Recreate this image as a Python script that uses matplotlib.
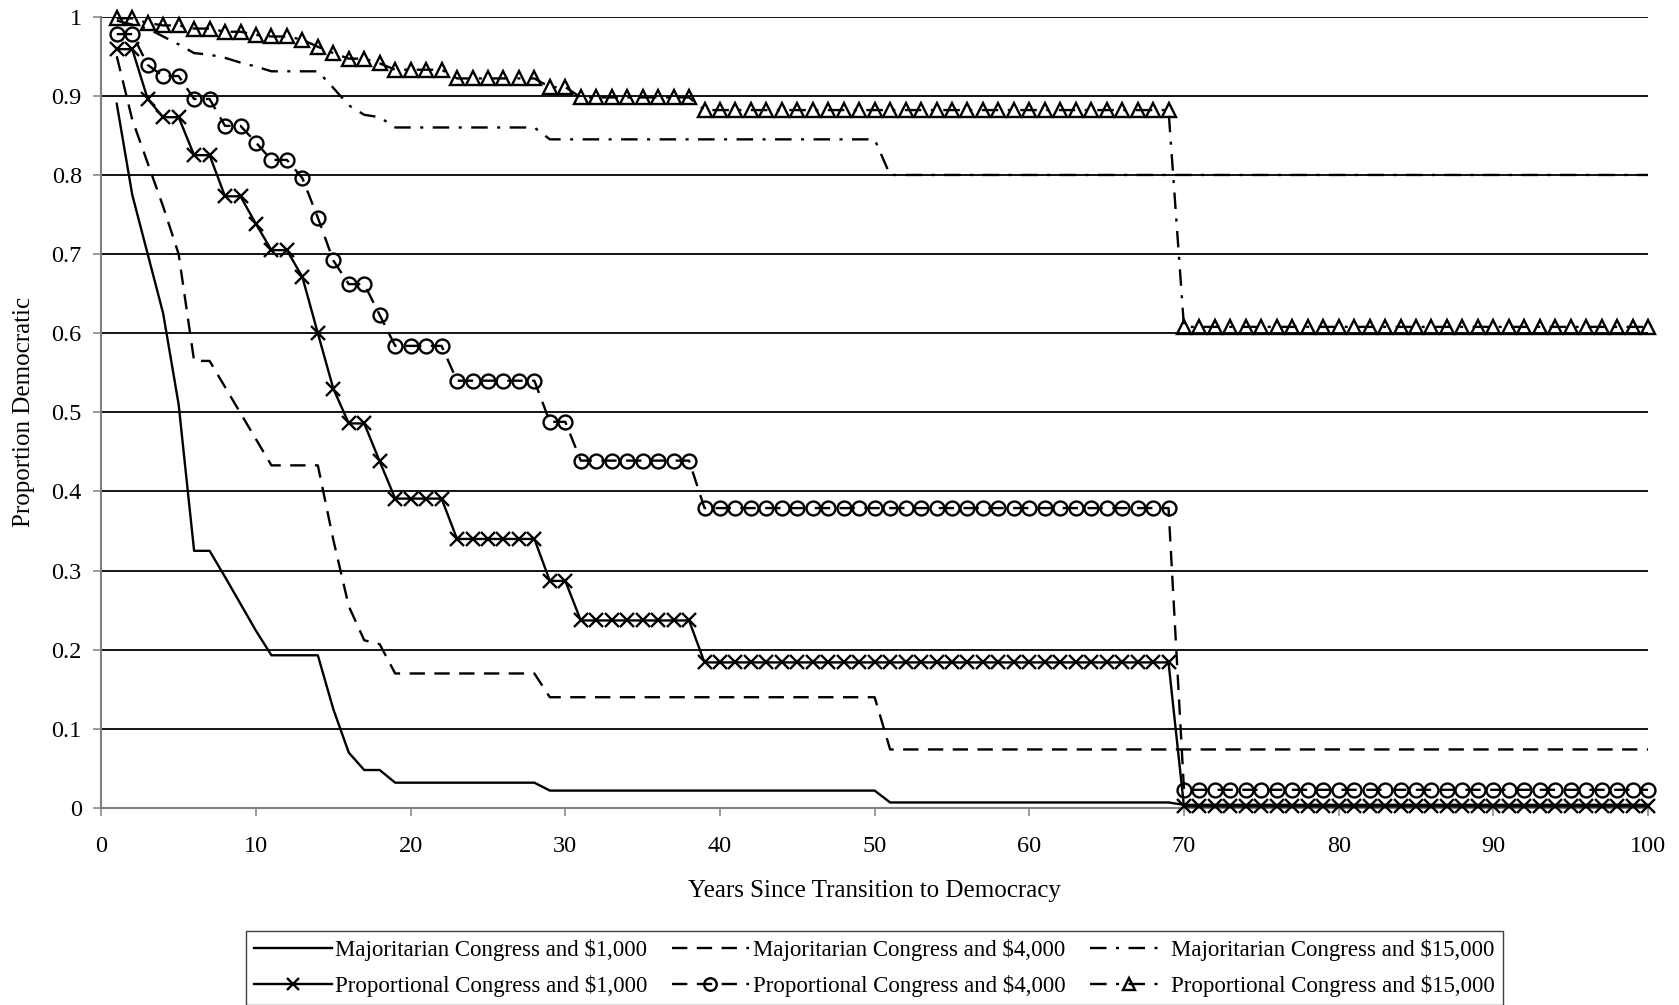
import matplotlib
matplotlib.use('Agg')
from matplotlib import pyplot as plt

plt.rcParams['font.family'] = ['Liberation Serif', 'DejaVu Serif']
plt.rcParams['text.parse_math'] = False  # labels contain a single '$'

# ---- data (proportion still democratic, years 1..100) ----
years = list(range(1, 101))

majCongress1000 = [
    0.890, 0.775, 0.700, 0.625, 0.510, 0.325, 0.325, 0.292, 0.258, 0.224,
    0.193, 0.193, 0.193, 0.193, 0.125, 0.070, 0.048, 0.048, 0.032, 0.032,
    0.032, 0.032, 0.032, 0.032, 0.032, 0.032, 0.032, 0.032, 0.022, 0.022,
    0.022, 0.022, 0.022, 0.022, 0.022, 0.022, 0.022, 0.022, 0.022, 0.022,
    0.022, 0.022, 0.022, 0.022, 0.022, 0.022, 0.022, 0.022, 0.022, 0.022,
    0.007, 0.007, 0.007, 0.007, 0.007, 0.007, 0.007, 0.007, 0.007, 0.007,
    0.007, 0.007, 0.007, 0.007, 0.007, 0.007, 0.007, 0.007, 0.007, 0.004,
    0.004, 0.004, 0.004, 0.004, 0.004, 0.004, 0.004, 0.004, 0.004, 0.004,
    0.004, 0.004, 0.004, 0.004, 0.004, 0.004, 0.004, 0.004, 0.004, 0.004,
    0.004, 0.004, 0.004, 0.004, 0.004, 0.004, 0.004, 0.004, 0.004, 0.004,
]

majCongress4000 = [
    0.950, 0.870, 0.815, 0.760, 0.700, 0.565, 0.565, 0.532, 0.499, 0.466,
    0.433, 0.433, 0.433, 0.433, 0.339, 0.255, 0.212, 0.207, 0.170, 0.170,
    0.170, 0.170, 0.170, 0.170, 0.170, 0.170, 0.170, 0.170, 0.140, 0.140,
    0.140, 0.140, 0.140, 0.140, 0.140, 0.140, 0.140, 0.140, 0.140, 0.140,
    0.140, 0.140, 0.140, 0.140, 0.140, 0.140, 0.140, 0.140, 0.140, 0.140,
    0.074, 0.074, 0.074, 0.074, 0.074, 0.074, 0.074, 0.074, 0.074, 0.074,
    0.074, 0.074, 0.074, 0.074, 0.074, 0.074, 0.074, 0.074, 0.074, 0.074,
    0.074, 0.074, 0.074, 0.074, 0.074, 0.074, 0.074, 0.074, 0.074, 0.074,
    0.074, 0.074, 0.074, 0.074, 0.074, 0.074, 0.074, 0.074, 0.074, 0.074,
    0.074, 0.074, 0.074, 0.074, 0.074, 0.074, 0.074, 0.074, 0.074, 0.074,
]

majCongress15000 = [
    0.995, 0.990, 0.985, 0.975, 0.965, 0.954, 0.952, 0.948, 0.942, 0.937,
    0.931, 0.931, 0.931, 0.931, 0.910, 0.888, 0.876, 0.873, 0.860, 0.860,
    0.860, 0.860, 0.860, 0.860, 0.860, 0.860, 0.860, 0.860, 0.845, 0.845,
    0.845, 0.845, 0.845, 0.845, 0.845, 0.845, 0.845, 0.845, 0.845, 0.845,
    0.845, 0.845, 0.845, 0.845, 0.845, 0.845, 0.845, 0.845, 0.845, 0.845,
    0.800, 0.800, 0.800, 0.800, 0.800, 0.800, 0.800, 0.800, 0.800, 0.800,
    0.800, 0.800, 0.800, 0.800, 0.800, 0.800, 0.800, 0.800, 0.800, 0.800,
    0.800, 0.800, 0.800, 0.800, 0.800, 0.800, 0.800, 0.800, 0.800, 0.800,
    0.800, 0.800, 0.800, 0.800, 0.800, 0.800, 0.800, 0.800, 0.800, 0.800,
    0.800, 0.800, 0.800, 0.800, 0.800, 0.800, 0.800, 0.800, 0.800, 0.800,
]

propCongress1000 = [
    0.959, 0.959, 0.896, 0.873, 0.873, 0.825, 0.825, 0.773, 0.773, 0.738,
    0.705, 0.705, 0.671, 0.600, 0.530, 0.486, 0.486, 0.438, 0.391, 0.391,
    0.391, 0.391, 0.340, 0.340, 0.340, 0.340, 0.340, 0.340, 0.287, 0.287,
    0.237, 0.237, 0.237, 0.237, 0.237, 0.237, 0.237, 0.237, 0.184, 0.184,
    0.184, 0.184, 0.184, 0.184, 0.184, 0.184, 0.184, 0.184, 0.184, 0.184,
    0.184, 0.184, 0.184, 0.184, 0.184, 0.184, 0.184, 0.184, 0.184, 0.184,
    0.184, 0.184, 0.184, 0.184, 0.184, 0.184, 0.184, 0.184, 0.184, 0.002,
    0.002, 0.002, 0.002, 0.002, 0.002, 0.002, 0.002, 0.002, 0.002, 0.002,
    0.002, 0.002, 0.002, 0.002, 0.002, 0.002, 0.002, 0.002, 0.002, 0.002,
    0.002, 0.002, 0.002, 0.002, 0.002, 0.002, 0.002, 0.002, 0.002, 0.002,
]

propCongress4000 = [
    0.978, 0.978, 0.939, 0.925, 0.925, 0.896, 0.896, 0.862, 0.862, 0.841,
    0.819, 0.819, 0.796, 0.746, 0.692, 0.662, 0.662, 0.623, 0.584, 0.584,
    0.584, 0.584, 0.540, 0.540, 0.540, 0.540, 0.540, 0.540, 0.488, 0.488,
    0.439, 0.439, 0.439, 0.439, 0.439, 0.439, 0.439, 0.439, 0.379, 0.379,
    0.379, 0.379, 0.379, 0.379, 0.379, 0.379, 0.379, 0.379, 0.379, 0.379,
    0.379, 0.379, 0.379, 0.379, 0.379, 0.379, 0.379, 0.379, 0.379, 0.379,
    0.379, 0.379, 0.379, 0.379, 0.379, 0.379, 0.379, 0.379, 0.379, 0.023,
    0.023, 0.023, 0.023, 0.023, 0.023, 0.023, 0.023, 0.023, 0.023, 0.023,
    0.023, 0.023, 0.023, 0.023, 0.023, 0.023, 0.023, 0.023, 0.023, 0.023,
    0.023, 0.023, 0.023, 0.023, 0.023, 0.023, 0.023, 0.023, 0.023, 0.023,
]

propCongress15000 = [
    0.998, 0.998, 0.992, 0.989, 0.989, 0.985, 0.985, 0.981, 0.981, 0.977,
    0.975, 0.975, 0.971, 0.962, 0.954, 0.947, 0.947, 0.941, 0.933, 0.933,
    0.933, 0.933, 0.922, 0.922, 0.922, 0.922, 0.922, 0.922, 0.911, 0.911,
    0.898, 0.898, 0.898, 0.898, 0.898, 0.898, 0.898, 0.898, 0.882, 0.882,
    0.882, 0.882, 0.882, 0.882, 0.882, 0.882, 0.882, 0.882, 0.882, 0.882,
    0.882, 0.882, 0.882, 0.882, 0.882, 0.882, 0.882, 0.882, 0.882, 0.882,
    0.882, 0.882, 0.882, 0.882, 0.882, 0.882, 0.882, 0.882, 0.882, 0.608,
    0.608, 0.608, 0.608, 0.608, 0.608, 0.608, 0.608, 0.608, 0.608, 0.608,
    0.608, 0.608, 0.608, 0.608, 0.608, 0.608, 0.608, 0.608, 0.608, 0.608,
    0.608, 0.608, 0.608, 0.608, 0.608, 0.608, 0.608, 0.608, 0.608, 0.608,
]

xTicks = [0, 10, 20, 30, 40, 50, 60, 70, 80, 90, 100]
yTicks = [0, 0.1, 0.2, 0.3, 0.4, 0.5, 0.6, 0.7, 0.8, 0.9, 1.0]
yTickLabels = ['0', '0.1', '0.2', '0.3', '0.4', '0.5', '0.6', '0.7', '0.8', '0.9', '1']

# ---- styles ----
dashed = (6.5, 4)
dashDot = (7, 4, 1.3, 4)
axisGray = '#808080'


def plotSeries(ax, values, label, dashes=None, marker=None):
    """ one survival curve; markers are hollow so the line shows through """
    line, = ax.plot(years, values, color='black', linewidth=1.7, label=label,
                    marker=marker, markersize=10, markeredgewidth=1.7,
                    markerfacecolor='none', markeredgecolor='black',
                    clip_on=False, zorder=3)
    if dashes is not None:
        line.set_dashes(dashes)
    return line


fig = plt.figure(figsize=(16.79, 10.05), dpi=100)
ax = fig.add_axes([101.3 / 1679, 1 - 808 / 1005, (1648 - 101.3) / 1679, (808 - 16.7) / 1005])

hMaj1 = plotSeries(ax, majCongress1000, 'Majoritarian Congress and $1,000')
hMaj4 = plotSeries(ax, majCongress4000, 'Majoritarian Congress and $4,000', dashes=dashed)
hMaj15 = plotSeries(ax, majCongress15000, 'Majoritarian Congress and $15,000', dashes=dashDot)
hPro1 = plotSeries(ax, propCongress1000, 'Proportional Congress and $1,000', marker='x')
hPro4 = plotSeries(ax, propCongress4000, 'Proportional Congress and $4,000', dashes=dashed, marker='o')
hPro15 = plotSeries(ax, propCongress15000, 'Proportional Congress and $15,000', dashes=dashDot, marker='^')

ax.set_xlim(0, 100)
ax.set_ylim(0, 1)
ax.set_xticks(xTicks)
ax.set_yticks(yTicks)
ax.set_yticklabels(yTickLabels)

ax.yaxis.grid(True, color='black', linewidth=1.3)
ax.set_axisbelow(True)
for side in ['top', 'right']:
    ax.spines[side].set_visible(False)
for side in ['left', 'bottom']:
    ax.spines[side].set_color(axisGray)
    ax.spines[side].set_linewidth(1.5)
    ax.spines[side].set_zorder(2.5)

ax.tick_params(axis='both', direction='out', length=6, width=1.1, color=axisGray,
               labelsize=17.5, labelcolor='black')
ax.tick_params(axis='x', pad=14)
ax.tick_params(axis='y', pad=8)

ax.set_xlabel('Years Since Transition to Democracy', fontsize=18)
ax.xaxis.set_label_coords(0.5, -(880 - 808) / 791.3)
ax.set_ylabel('Proportion Democratic', fontsize=18)
ax.yaxis.label.set_verticalalignment('center')
ax.yaxis.set_label_coords(-(101.3 - 24.5) / 1546.7, 0.5)

# legend fills column-wise, so interleave to get the two rows of the original
legendHandles = [hMaj1, hPro1, hMaj4, hPro4, hMaj15, hPro15]
leg = fig.legend(handles=legendHandles, labels=[h.get_label() for h in legendHandles],
                 ncol=3, loc='upper center', bbox_to_anchor=(874.2 / 1679, 1 - 931 / 1005),
                 fontsize=16.5, frameon=True, fancybox=False, framealpha=1,
                 edgecolor='#404040', handlelength=3.4, handletextpad=0.15,
                 columnspacing=1.05, borderpad=0.35, labelspacing=0.6, borderaxespad=0,
                 markerscale=0.9)
leg.get_frame().set_linewidth(1.0)

fig.savefig('out.png', dpi=100)
